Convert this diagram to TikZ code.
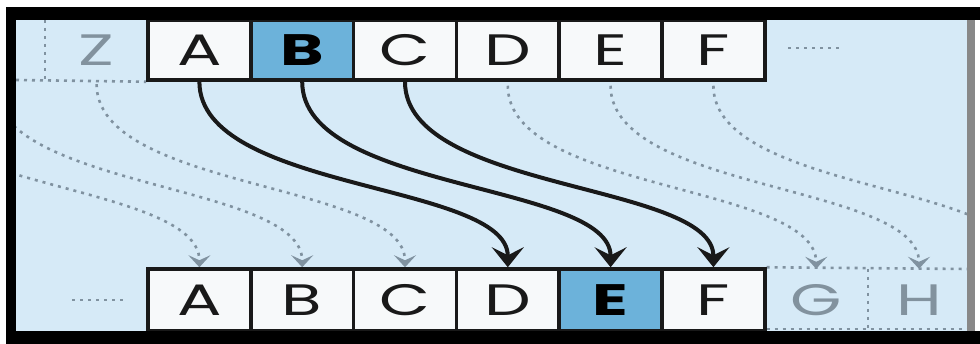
\documentclass[tikz,border=0pt]{standalone}
\usepackage{fontspec}
\usepackage{graphicx}
\setmainfont{Poppins}
\usetikzlibrary{arrows.meta}
\definecolor{bgblue}{RGB}{214,234,247}
\definecolor{cellwhite}{RGB}{247,249,250}
\definecolor{hiblue}{RGB}{108,178,218}
\definecolor{ghostgray}{RGB}{130,146,158}
\definecolor{dotgray}{RGB}{128,146,160}
\definecolor{framegray}{RGB}{136,136,136}
\newcommand{\wide}[1]{\scalebox{1.5}[1]{#1}}
\tikzset{
  cell/.style={draw=black!90, line width=3.5pt, fill=cellwhite, minimum width=102.8pt,
    inner sep=0pt, font=\fontsize{44}{44}\selectfont, text=black!90},
  hicell/.style={cell, fill=hiblue, font=\fontsize{44}{44}\bfseries\selectfont, text=black},
  ghost/.style={minimum width=102.8pt, inner sep=0pt, font=\fontsize{44}{44}\selectfont, text=ghostgray},
  toprow/.style={minimum height=60pt},
  botrow/.style={minimum height=62pt},
  mainarrow/.style={line width=4pt, black!90, -{Stealth[length=20pt,width=32pt,inset=8pt]}},
  ghostarrow/.style={line width=2.6pt, dotgray, dash pattern=on 3pt off 5pt, shorten <=4pt,
    -{Stealth[length=12pt,width=22pt,inset=5pt]}},
  ghostline/.style={line width=2.6pt, dotgray, dash pattern=on 3pt off 5pt}
}
\begin{document}
\begin{tikzpicture}[x=1pt,y=-1pt]
\useasboundingbox (0,0) rectangle (980,344);
% background
\fill[white] (0,0) rectangle (980,344);
\fill[bgblue] (16,20) rectangle (967,331);

% top row ghosts
\node[ghost,toprow] (gZ) at (96.6,50) {\wide{Z}};
\coordinate (tX) at (-109,80);
\coordinate (tY) at (-6.2,80);
% bottom row ghosts
\node[ghost,botrow] (gG) at (816.2,300) {\wide{G}};
\node[ghost,botrow] (gH) at (919,300) {\wide{H}};
\coordinate (bI) at (1021.8,269);

% cells
\node[cell,toprow] (tA) at (199.4,50) {\wide{A}};
\node[hicell,toprow] (tB) at (302.2,50) {\wide{B}};
\node[cell,toprow] (tC) at (405,50) {\wide{C}};
\node[cell,toprow] (tD) at (507.8,50) {\wide{D}};
\node[cell,toprow] (tE) at (610.6,50) {\wide{E}};
\node[cell,toprow] (tF) at (713.4,50) {\wide{F}};

\node[cell,botrow] (bA) at (199.4,300) {\wide{A}};
\node[cell,botrow] (bB) at (302.2,300) {\wide{B}};
\node[cell,botrow] (bC) at (405,300) {\wide{C}};
\node[cell,botrow] (bD) at (507.8,300) {\wide{D}};
\node[hicell,botrow] (bE) at (610.6,300) {\wide{E}};
\node[cell,botrow] (bF) at (713.4,300) {\wide{F}};

% dotted ghost curves (clipped to the frame interior)
\begin{scope}
\clip (16,20) rectangle (967,331);
\draw[ghostarrow] (tX) .. controls +(0,110) and +(0,-85) .. (bA.north);
\draw[ghostarrow] (tY) .. controls +(0,110) and +(0,-85) .. (bB.north);
\draw[ghostarrow] (gZ.south) .. controls +(0,110) and +(0,-85) .. (bC.north);
\draw[ghostarrow] (tD.south) .. controls +(0,110) and +(0,-85) .. (gG.north);
\draw[ghostarrow] (tE.south) .. controls +(0,110) and +(0,-85) .. (gH.north);
\draw[ghostarrow] (tF.south) .. controls +(0,110) and +(0,-85) .. (bI);
% ghost cell edges
\draw[ghostline] (gZ.north west) -- (gZ.south west);
\draw[ghostline] (16,80) -- (tA.south west);
\draw[ghostline] (bF.north east) -- (967,269);
\draw[ghostline] (gG.north east) -- (gG.south east);
\draw[ghostline] (bF.east |- 0,329) -- (967,329);
\draw[ghostline] (788,48) -- (842,48);
\draw[ghostline] (72,300) -- (124,300);
\end{scope}

% redraw cells on top of the dotted lines
\node[cell,toprow] at (tA) {\wide{A}};
\node[hicell,toprow] at (tB) {\wide{B}};
\node[cell,toprow] at (tC) {\wide{C}};
\node[cell,toprow] at (tD) {\wide{D}};
\node[cell,toprow] at (tE) {\wide{E}};
\node[cell,toprow] at (tF) {\wide{F}};
\node[cell,botrow] at (bA) {\wide{A}};
\node[cell,botrow] at (bB) {\wide{B}};
\node[cell,botrow] at (bC) {\wide{C}};
\node[cell,botrow] at (bD) {\wide{D}};
\node[hicell,botrow] at (bE) {\wide{E}};
\node[cell,botrow] at (bF) {\wide{F}};

% main arrows
\draw[mainarrow] (tA.south) .. controls +(0,110) and +(0,-85) .. (bD.north);
\draw[mainarrow] (tB.south) .. controls +(0,110) and +(0,-85) .. (bE.north);
\draw[mainarrow] (tC.south) .. controls +(0,110) and +(0,-85) .. (bF.north);

% frame
\fill[black] (6,7) rectangle (980,20);
\fill[black] (6,7) rectangle (16,344);
\fill[black] (6,331) rectangle (980,344);
\fill[framegray] (967,20) rectangle (975,331);
\end{tikzpicture}
\end{document}
